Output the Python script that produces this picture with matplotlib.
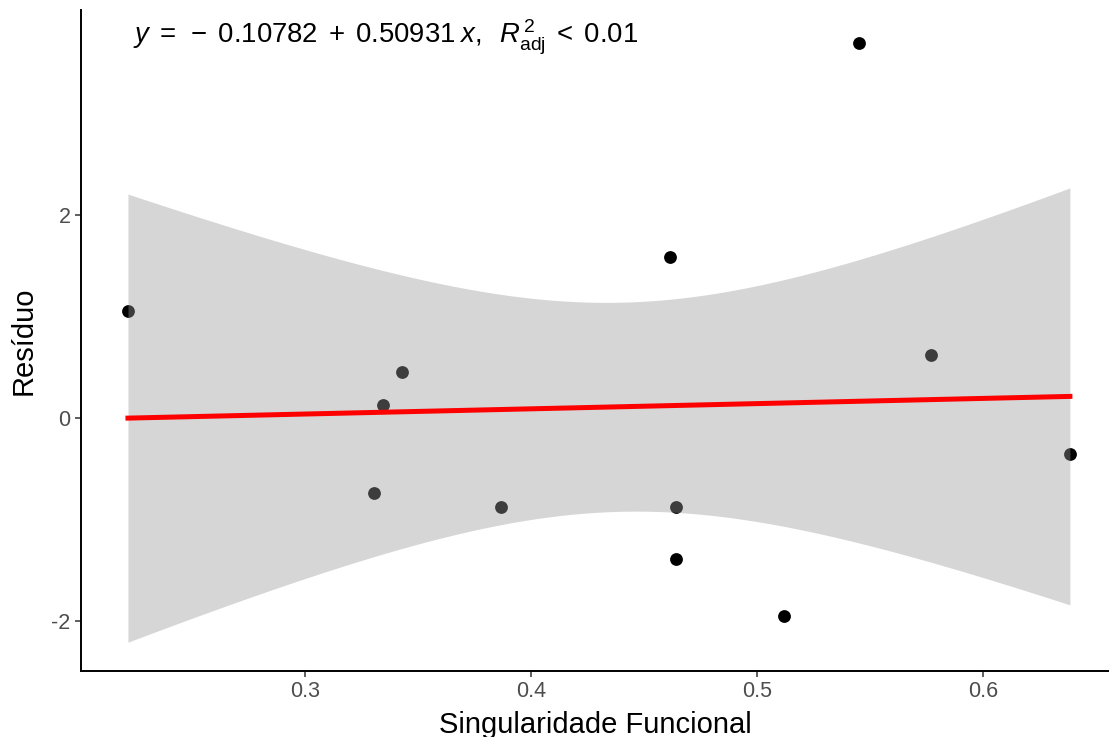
import numpy as np
import matplotlib
matplotlib.use("Agg")
import matplotlib.pyplot as plt

plt.rcParams["font.family"] = "Liberation Sans"
plt.rcParams["mathtext.fontset"] = "custom"
plt.rcParams["mathtext.rm"] = "Liberation Sans"
plt.rcParams["mathtext.it"] = "Liberation Sans:italic"

# singularidade funcional vs residuo
sing_func = [0.2217, 0.3345, 0.3429, 0.3305, 0.3867, 0.4615,
             0.4642, 0.4642, 0.5120, 0.5450, 0.5770, 0.6385]
residuo = [1.054, 0.128, 0.453, -0.739, -0.877, 1.586,
           -0.877, -1.389, -1.951, 3.695, 0.621, -0.355]

x = np.array(sing_func)
y = np.array(residuo)

# linear fit + 95% confidence band (t, df = n - 2 = 10)
slope, intercept = np.polyfit(x, y, 1)
t_crit = 2.228
n = len(x)
resid = y - (intercept + slope * x)
s = np.sqrt(np.sum(resid**2) / (n - 2))
xs = np.linspace(x.min(), x.max(), 200)
yfit = intercept + slope * xs
se = s * np.sqrt(1.0 / n + (xs - x.mean())**2 / np.sum((x - x.mean())**2))

fig = plt.figure(figsize=(11.09, 7.37), dpi=100)
ax = fig.add_axes([0.073, 0.0896, 0.927, 0.8968])

ax.scatter(x, y, s=85, color="black", zorder=1, linewidths=0)
ax.fill_between(xs, yfit - t_crit * se, yfit + t_crit * se,
                color="#999999", alpha=0.4, linewidth=0, zorder=2)
ax.plot(xs, yfit, color="red", lw=3.6, zorder=3)

ax.set_xlim(0.2009, 0.6558)
ax.set_ylim(-2.49, 4.02)
ax.set_xticks([0.3, 0.4, 0.5, 0.6])
ax.set_xticklabels(["0.3", "0.4", "0.5", "0.6"])
ax.set_yticks([-2, 0, 2])
ax.set_yticklabels(["-2", "0", "2"])

for side in ["top", "right"]:
    ax.spines[side].set_visible(False)
for side in ["left", "bottom"]:
    ax.spines[side].set_linewidth(1.4)
    ax.spines[side].set_color("black")
ax.tick_params(colors="#333333", labelcolor="#4D4D4D", labelsize=15.5,
               length=4, width=1.1)

ax.set_xlabel("Singularidade Funcional", fontsize=21, labelpad=6)
ax.set_ylabel("Resíduo", fontsize=21, labelpad=10)

ax.text(0.0506, 0.958,
        r"$y\;=\;-\;0.10782\;+\;0.50931\;x,\;\;R^{\,2}_{\mathrm{adj}}\;<\;0.01$",
        transform=ax.transAxes, fontsize=19.8, ha="left", va="center")

plt.savefig("out.png", dpi=100)
